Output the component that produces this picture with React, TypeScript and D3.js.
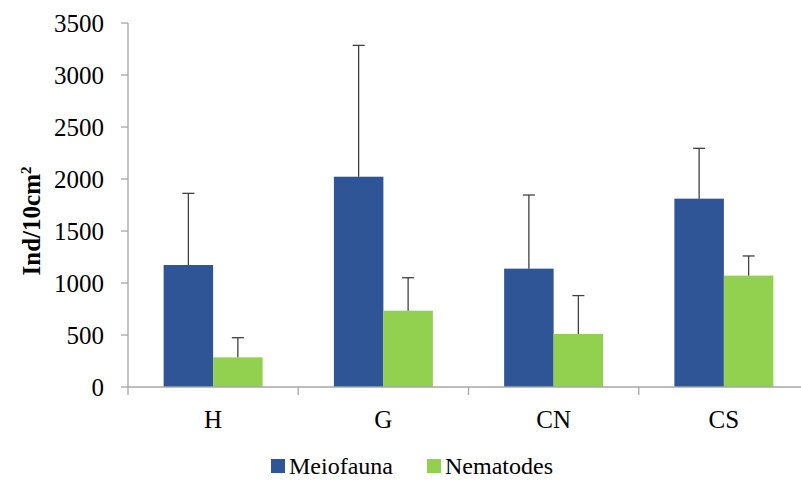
import React, { useEffect, useRef } from 'react';
import * as d3 from 'd3';

const categories = ['H', 'G', 'CN', 'CS'];
const seriesNames = ['Meiofauna', 'Nematodes'];
const meiofauna = [1173, 2022, 1138, 1811];
const meiofaunaErr = [689, 1263, 708, 484];
const nematodes = [285, 734, 510, 1071];
const nematodesErr = [189, 317, 369, 189];
const yTicks = [0, 500, 1000, 1500, 2000, 2500, 3000, 3500];
const colors = ['#2F5597', '#92D050'];

const App = () => {
  const chartRef = useRef<HTMLDivElement>(null);

  useEffect(() => {
    document.body.style.margin = '0';
    const width = 801;
    const height = 480;
    const left = 128;
    const right = 809;
    const top = 23;
    const bottom = 387;
    const font = '"Liberation Serif", "Times New Roman", serif';
    const axisColor = '#A6A6A6';

    d3.select(chartRef.current).select('svg').remove();

    const svg = d3
      .select(chartRef.current)
      .append('svg')
      .attr('width', width)
      .attr('height', height)
      .style('display', 'block')
      .style('background', '#fff');

    const y = d3.scaleLinear().domain([0, 3500]).range([bottom, top]);
    const x0 = d3.scaleBand<string>().domain(categories).range([left, right]).padding(0);
    const x1 = d3
      .scaleBand<string>()
      .domain(seriesNames)
      .range([0, x0.bandwidth()])
      .paddingInner(0)
      .paddingOuter(0.72);

    const values = [meiofauna, nematodes];
    const errors = [meiofaunaErr, nematodesErr];

    // Y axis
    svg
      .append('line')
      .attr('x1', left)
      .attr('x2', left)
      .attr('y1', top)
      .attr('y2', bottom + 8)
      .attr('stroke', axisColor)
      .attr('stroke-width', 1.3);

    const yt = svg.append('g');
    yTicks.forEach((t) => {
      yt.append('line')
        .attr('x1', left - 7)
        .attr('x2', left)
        .attr('y1', y(t))
        .attr('y2', y(t))
        .attr('stroke', axisColor)
        .attr('stroke-width', 1.3);
      yt.append('text')
        .attr('x', 104)
        .attr('y', y(t) + 9)
        .attr('text-anchor', 'end')
        .attr('font-family', font)
        .attr('font-size', 25)
        .attr('fill', '#000')
        .text(t);
    });

    // Bars
    seriesNames.forEach((s, si) => {
      svg
        .append('g')
        .selectAll('rect')
        .data(categories)
        .join('rect')
        .attr('x', (c) => (x0(c) as number) + (x1(s) as number))
        .attr('y', (c, i) => y(values[si][i]))
        .attr('width', x1.bandwidth())
        .attr('height', (c, i) => bottom - y(values[si][i]))
        .attr('fill', colors[si]);
    });

    // Error bars (upper only)
    seriesNames.forEach((s, si) => {
      const g = svg.append('g').attr('stroke', '#404040').attr('stroke-width', 1.3);
      categories.forEach((c, i) => {
        const cx = (x0(c) as number) + (x1(s) as number) + x1.bandwidth() / 2;
        const v = values[si][i];
        const e = v + errors[si][i];
        g.append('line').attr('x1', cx).attr('x2', cx).attr('y1', y(v)).attr('y2', y(e));
        g.append('line')
          .attr('x1', cx - 6)
          .attr('x2', cx + 6)
          .attr('y1', y(e))
          .attr('y2', y(e));
      });
    });

    // X axis
    svg
      .append('line')
      .attr('x1', left)
      .attr('x2', right)
      .attr('y1', bottom)
      .attr('y2', bottom)
      .attr('stroke', axisColor)
      .attr('stroke-width', 1.3);

    categories.forEach((c) => {
      const bx = x0(c) as number;
      if (bx > left) {
        svg
          .append('line')
          .attr('x1', bx)
          .attr('x2', bx)
          .attr('y1', bottom)
          .attr('y2', bottom + 8)
          .attr('stroke', axisColor)
          .attr('stroke-width', 1.3);
      }
      svg
        .append('text')
        .attr('x', bx + x0.bandwidth() / 2)
        .attr('y', 428)
        .attr('text-anchor', 'middle')
        .attr('font-family', font)
        .attr('font-size', 25)
        .attr('fill', '#000')
        .text(c);
    });

    // Y title
    const title = svg
      .append('text')
      .attr('transform', 'translate(40, 221) rotate(-90)')
      .attr('text-anchor', 'middle')
      .attr('font-family', font)
      .attr('font-size', 25)
      .attr('font-weight', 'bold')
      .attr('fill', '#000');
    title.append('tspan').text('Ind/10cm');
    title.append('tspan').attr('dy', -9).attr('font-size', 15).text('2');

    // Legend
    const legendX = [271, 427];
    seriesNames.forEach((s, si) => {
      svg
        .append('rect')
        .attr('x', legendX[si])
        .attr('y', 459)
        .attr('width', 14)
        .attr('height', 14)
        .attr('fill', colors[si]);
      svg
        .append('text')
        .attr('x', legendX[si] + 18)
        .attr('y', 474)
        .attr('font-family', font)
        .attr('font-size', 24)
        .attr('fill', '#000')
        .text(s);
    });
  }, []);

  return <div ref={chartRef}></div>;
};

export default App;
